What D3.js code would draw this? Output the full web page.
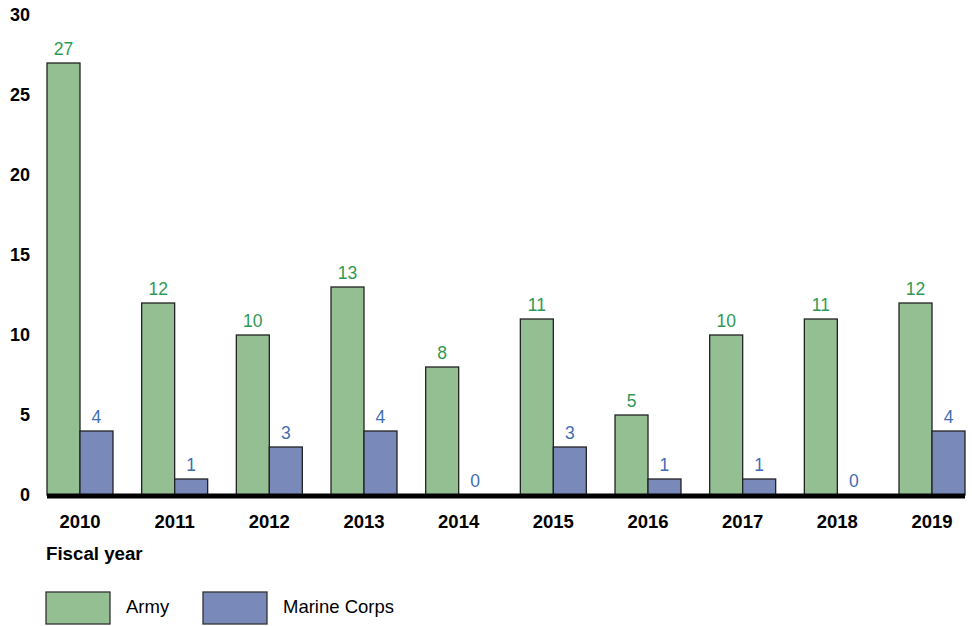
<!DOCTYPE html>
<html><head><meta charset="utf-8">
<script src="https://cdn.jsdelivr.net/npm/d3@7/dist/d3.min.js"></script>
<style>body{margin:0;background:#fff}svg{display:block;font-family:"Liberation Sans",Arial,sans-serif}</style>
</head><body><svg id="c" width="972" height="626"></svg>
<script>
const years = ["2010","2011","2012","2013","2014","2015","2016","2017","2018","2019"];
const army = [27,12,10,13,8,11,5,10,11,12];
const marine = [4,1,3,4,0,3,1,1,0,4];
const seriesNames = ["Army","Marine Corps"];
const yTicks = [0,5,10,15,20,25,30];

const fills = ["#93bf93","#7889ba"];
const labelColors = ["#2e9955","#3f6db3"];
const svg = d3.select("#c");
const x = d3.scaleBand().domain(years).range([32.8,979.2]).paddingInner(0.303).paddingOuter(0.15);
const y = d3.scaleLinear().domain([0,30]).range([495,15]);
const xs = d3.scaleBand().domain(seriesNames).range([0,x.bandwidth()]);

// y ticks
svg.append("g").selectAll("text").data(yTicks).join("text")
  .attr("x",30).attr("y",d=>y(d)).attr("dy","0.35em").attr("text-anchor","end")
  .attr("font-size",18).attr("font-weight","bold").attr("fill","#000").text(d=>d);

const data = years.map((yr,i)=>({yr, vals:[army[i],marine[i]]}));
const g = svg.append("g").selectAll("g").data(data).join("g").attr("transform",d=>`translate(${x(d.yr)},0)`);
g.selectAll("rect").data(d=>d.vals.map((v,k)=>({v,k}))).join("rect")
  .attr("x",d=>xs(seriesNames[d.k])).attr("width",xs.bandwidth())
  .attr("y",d=>y(d.v)).attr("height",d=>y(0)-y(d.v))
  .attr("fill",d=>fills[d.k]).attr("stroke","#222").attr("stroke-width",1.3)
  .attr("display",d=>d.v===0?"none":null);
g.selectAll("text").data(d=>d.vals.map((v,k)=>({v,k}))).join("text")
  .attr("x",d=>xs(seriesNames[d.k])+xs.bandwidth()/2).attr("y",d=>y(d.v)-8)
  .attr("text-anchor","middle").attr("font-size",17.5).attr("fill",d=>labelColors[d.k]).text(d=>d.v);

// baseline
svg.append("line").attr("x1",x(years[0])).attr("x2",x(years[9])+x.bandwidth())
  .attr("y1",y(0)+1).attr("y2",y(0)+1).attr("stroke","#000").attr("stroke-width",5);

// x labels
svg.append("g").selectAll("text").data(years).join("text")
  .attr("x",d=>x(d)+x.bandwidth()/2).attr("y",528).attr("text-anchor","middle")
  .attr("font-size",18.5).attr("font-weight","bold").attr("fill","#000").text(d=>d);

svg.append("text").attr("x",46).attr("y",560).attr("font-size",18.7).attr("font-weight","bold").text("Fiscal year");

// legend
const lx = [46,203];
const lg = svg.append("g").selectAll("g").data(seriesNames).join("g").attr("transform",(d,i)=>`translate(${lx[i]},592)`);
lg.append("rect").attr("width",64).attr("height",32).attr("fill",(d,i)=>fills[i]).attr("stroke","#333").attr("stroke-width",1.3);
lg.append("text").attr("x",80).attr("y",21).attr("font-size",18.5).attr("fill","#000").text(d=>d);
</script></body></html>
